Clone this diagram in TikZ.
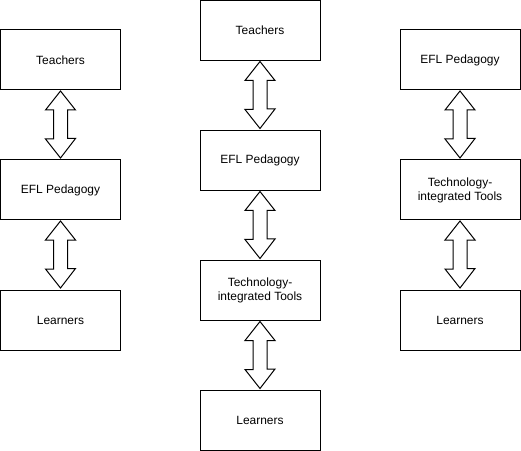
\documentclass[tikz,border=0pt]{standalone}
\usepackage{fontspec}
\setmainfont{Liberation Sans}
\usetikzlibrary{calc}
\tikzset{
  box/.style={draw=black, line width=1bp, minimum width=120bp, minimum height=60bp, inner sep=0pt, align=center, font=\fontsize{12}{14}\selectfont},
  arr/.style={draw=black, line width=1bp, fill=white, line join=miter}
}
\newcommand\dbl[2]{\draw[arr] ($(#1.south)+(0,0.5)$) -- ++(15,19) -- ++(-8,0) -- ($(#2.north)+(7,-21)$) -- ++(8,0) -- ($(#2.north)+(0,-1.5)$) -- ++(-15,-19) -- ++(8,0) -- ($(#1.south)+(-7,19.5)$) -- ++(-8,0) -- cycle;}
\begin{document}
\begin{tikzpicture}[x=1bp,y=-1bp]
\useasboundingbox (0,0) rectangle (521,451);
% left column
\node[box] (lt) at (60.5,60) {Teachers};
\node[box] (lp) at (60.5,190) {EFL Pedagogy};
\node[box] (ll) at (60.5,320) {Learners};
% middle column
\node[box] (mt) at (260,30.5) {Teachers};
\node[box] (mp) at (260,160.5) {EFL Pedagogy};
\node[box] (mtt) at (260,290.5) {Technology-\\integrated Tools};
\node[box] (ml) at (260,420.5) {Learners};
% right column
\node[box] (rp) at (460,60) {EFL Pedagogy};
\node[box] (rt) at (460,190) {Technology-\\integrated Tools};
\node[box] (rl) at (460,320) {Learners};
\dbl{lt}{lp}
\dbl{lp}{ll}
\dbl{mt}{mp}
\dbl{mp}{mtt}
\dbl{mtt}{ml}
\dbl{rp}{rt}
\dbl{rt}{rl}
\end{tikzpicture}
\end{document}
